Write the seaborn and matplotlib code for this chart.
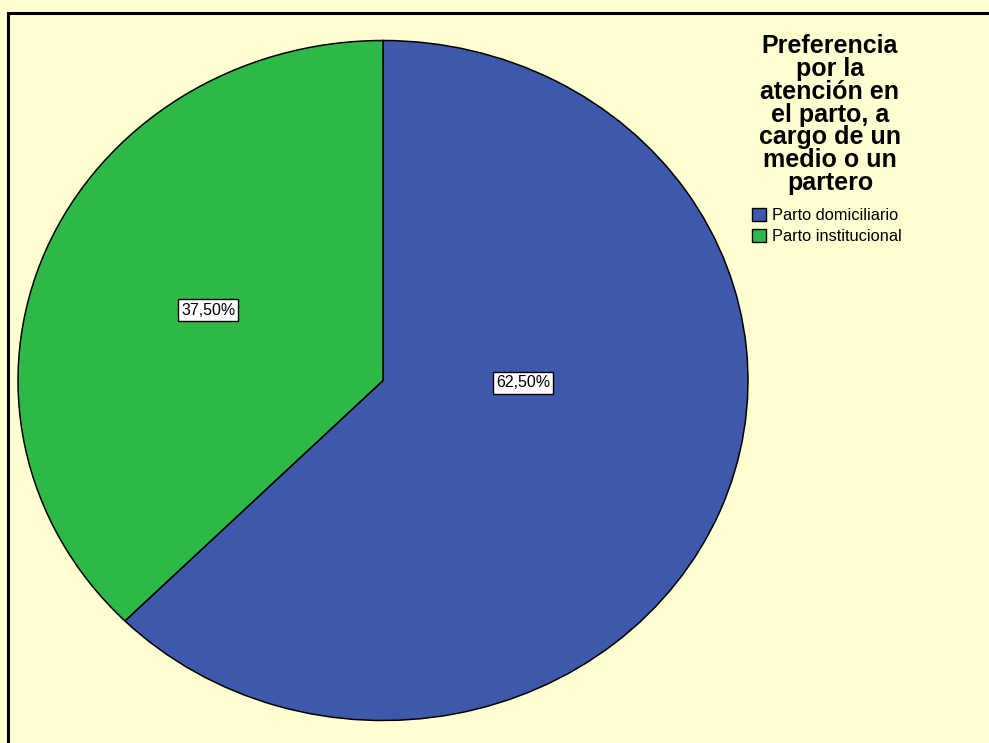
import matplotlib
matplotlib.use("Agg")
import matplotlib.pyplot as plt
import seaborn as sns
import numpy as np
from matplotlib.patches import Rectangle, Patch

# Data
categories = ["Parto domiciliario", "Parto institucional"]
percentages = [62.5, 37.5]
colors = ["#3E58AC", "#2EB848"]
title_text = "Preferencia\npor la\natención en\nel parto, a\ncargo de un\nmedio o un\npartero"

# label centres (data units of the pie axes), one per category
label_xy = [(0.384, -0.007), (-0.479, 0.207)]

sns.set_theme(style="white")
plt.rcParams["font.family"] = ["Liberation Sans", "DejaVu Sans"]

W, H = 989, 743
bg = "#FFFFD2"
fig = plt.figure(figsize=(W / 100, H / 100), dpi=100)
fig.patch.set_facecolor(bg)

# outer frame (left and top edges visible)
fig.add_artist(Rectangle((8 / W, -0.05), 1.2, 1 - 13 / H + 0.05,
                         transform=fig.transFigure, fill=False,
                         edgecolor="black", linewidth=2.2))

# pie axes: elliptical pie, centre (383, 380.5) px, radii 365 x 340 px
cx, cy, rx, ry = 383, 380.5, 365, 340
ax = fig.add_axes([(cx - rx) / W, (H - cy - ry) / H, 2 * rx / W, 2 * ry / H])
wedges, texts, autotexts = ax.pie(
    percentages, colors=colors, startangle=90, counterclock=False,
    autopct=lambda p: f"{p:.2f}%".replace(".", ","),
    wedgeprops=dict(edgecolor="black", linewidth=1.1),
    textprops=dict(fontsize=11.5, color="black"),
)
ax.set_aspect("auto")
ax.set_xlim(-1, 1)
ax.set_ylim(-1, 1)
ax.set_facecolor("none")
ax.axis("off")
for t, (x, y) in zip(autotexts, label_xy):
    t.set_position((x, y))
    t.set_bbox(dict(boxstyle="square,pad=0.2", facecolor="white",
                    edgecolor="black", linewidth=1.0))

# legend title
fig.text(830 / W, 1 - 34 / H, title_text, ha="center", va="top",
         multialignment="center", fontsize=18, fontweight="bold",
         linespacing=0.94, color="black")

handles = [Patch(facecolor=c, edgecolor="black", linewidth=1.0) for c in colors]
leg = fig.legend(handles, categories, loc="upper left",
                 bbox_to_anchor=(752 / W, 1 - 208 / H), frameon=False,
                 fontsize=11.8, handlelength=0.85, handleheight=0.85,
                 handletextpad=0.4, labelspacing=0.36, borderpad=0,
                 borderaxespad=0)
for t in leg.get_texts():
    t.set_color("black")

fig.savefig("out.png", dpi=100, facecolor=bg)
